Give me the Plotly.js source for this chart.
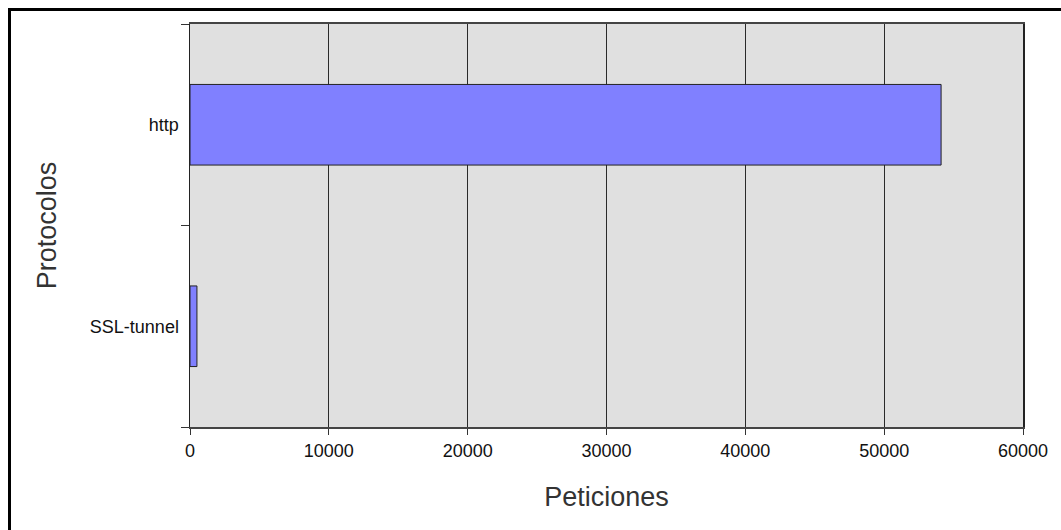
<!DOCTYPE html>
<html>
<head>
<meta charset="utf-8">
<script src="https://cdn.plot.ly/plotly-3.0.1.min.js"></script>
<style>
  html, body { margin: 0; padding: 0; background: #fff; overflow: hidden; }
  #chart { width: 1061px; height: 530px; position: absolute; left: 0; top: 0; }
  #frame { position: absolute; left: 8px; top: 8px; width: 1200px; height: 700px;
           border-top: 3px solid #000; border-left: 3px solid #000; pointer-events: none; }
</style>
</head>
<body>
<div id="chart"></div>
<div id="frame"></div>
<script>
const categories = ['SSL-tunnel', 'http'];
const peticiones = [500, 54100];
const xTickValues = [0, 10000, 20000, 30000, 40000, 50000, 60000];
const xTitle = 'Peticiones';
const yTitle = 'Protocolos';

const trace = {
  type: 'bar',
  orientation: 'h',
  y: categories,
  x: peticiones,
  width: 0.4,
  marker: { color: '#8080ff', line: { color: '#222', width: 1 } },
  hoverinfo: 'x+y'
};

const layout = {
  width: 1061,
  height: 530,
  margin: { l: 190, r: 38, t: 24, b: 103 },
  paper_bgcolor: '#ffffff',
  plot_bgcolor: '#e0e0e0',
  showlegend: false,
  font: { family: 'Liberation Sans, Arial, sans-serif', color: '#000' },
  xaxis: {
    range: [0, 60000],
    tickvals: xTickValues,
    ticktext: xTickValues.map(String),
    ticks: 'outside',
    ticklen: 6,
    tickwidth: 1,
    tickcolor: '#333',
    showgrid: true,
    gridcolor: '#2a2a2a',
    gridwidth: 1.3,
    zeroline: false,
    showline: true,
    linecolor: '#444',
    linewidth: 2,
    mirror: true,
    tickfont: { size: 18, color: '#111' },
    title: { text: xTitle, font: { size: 27, color: '#333' }, standoff: 28 }
  },
  yaxis: {
    type: 'category',
    categoryorder: 'array',
    categoryarray: categories,
    range: [-0.5, 1.5],
    tickson: 'boundaries',
    ticks: 'outside',
    ticklen: 8,
    tickwidth: 1,
    tickcolor: '#333',
    ticklabelstandoff: 6,
    showgrid: false,
    zeroline: false,
    showline: true,
    linecolor: '#222',
    linewidth: 1.5,
    mirror: true,
    tickfont: { size: 18, color: '#111' },
    title: { text: yTitle, font: { size: 27, color: '#333' }, standoff: 25 }
  }
};

Plotly.newPlot('chart', [trace], layout, { displayModeBar: false, staticPlot: true });
</script>
</body>
</html>
